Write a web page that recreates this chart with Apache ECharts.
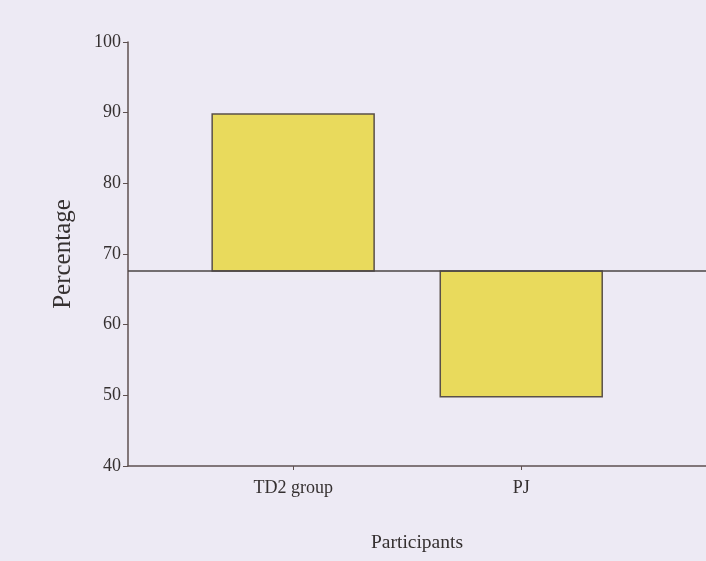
<!DOCTYPE html>
<html>
<head>
<meta charset="utf-8">
<style>
  html, body { margin: 0; padding: 0; background: #edeaf4; }
  #chart { width: 706px; height: 561px; }
</style>
<script src="https://cdn.jsdelivr.net/npm/echarts@6/dist/echarts.min.js"></script>
</head>
<body>
<div id="chart"></div>
<script>
// Participant groups and their percentage scores
const categories = ['TD2 group', 'PJ'];
const percentages = [89.8, 49.8];
// Reference level the bars hang from
const baselineValue = 67.6;
const yTicks = [40, 50, 60, 70, 80, 90, 100];

const positions = categories.map((_, i) => i + 1);
const barData = categories.map((name, i) => [positions[i], percentages[i], baselineValue]);

const serif = '"Liberation Serif", "DejaVu Serif", serif';
const ink = '#353030';
const axisColor = '#5e5050';

const chart = echarts.init(document.getElementById('chart'), null, { renderer: 'canvas' });

chart.setOption({
  backgroundColor: '#edeaf4',
  animation: false,
  grid: { left: 128, right: 0, top: 42, bottom: 95 },
  xAxis: {
    type: 'value',
    min: 0.276,
    max: 2.81,
    splitLine: { show: false },
    axisLine: { show: true, lineStyle: { color: axisColor, width: 1.5 } },
    axisTick: { show: true, customValues: positions, length: 4, lineStyle: { color: axisColor } },
    axisLabel: {
      customValues: positions,
      formatter: v => categories[Math.round(v) - 1] || '',
      color: ink, fontFamily: serif, fontSize: 18, margin: 13
    },
    name: 'Participants',
    nameLocation: 'middle',
    nameGap: 67,
    nameTextStyle: { color: ink, fontFamily: serif, fontSize: 19.5 }
  },
  yAxis: {
    type: 'value',
    min: yTicks[0],
    max: yTicks[yTicks.length - 1],
    interval: 10,
    splitLine: { show: false },
    axisLine: { show: true, lineStyle: { color: axisColor, width: 1.5 } },
    axisTick: { show: true, inside: false, length: 5, lineStyle: { color: axisColor } },
    axisLabel: { color: ink, fontFamily: serif, fontSize: 18, margin: 7 },
    name: 'Percentage',
    nameLocation: 'middle',
    nameGap: 52,
    nameTextStyle: { color: ink, fontFamily: serif, fontSize: 25 }
  },
  series: [{
    type: 'custom',
    data: barData,
    encode: { x: 0, y: 1 },
    renderItem: (params, api) => {
      const x = api.value(0);
      const top = api.coord([x, api.value(1)]);
      const base = api.coord([x, api.value(2)]);
      const w = api.size([0.71, 0])[0];
      const y0 = Math.min(top[1], base[1]);
      const h = Math.abs(top[1] - base[1]);
      return {
        type: 'rect',
        shape: { x: top[0] - w / 2, y: y0, width: w, height: h },
        style: { fill: '#e9da5c', stroke: '#5a5048', lineWidth: 1.5 }
      };
    },
    markLine: {
      silent: true,
      symbol: 'none',
      label: { show: false },
      lineStyle: { color: '#4a4444', width: 1.5, type: 'solid' },
      data: [{ yAxis: baselineValue }]
    },
    z: 2
  }]
});
</script>
</body>
</html>
